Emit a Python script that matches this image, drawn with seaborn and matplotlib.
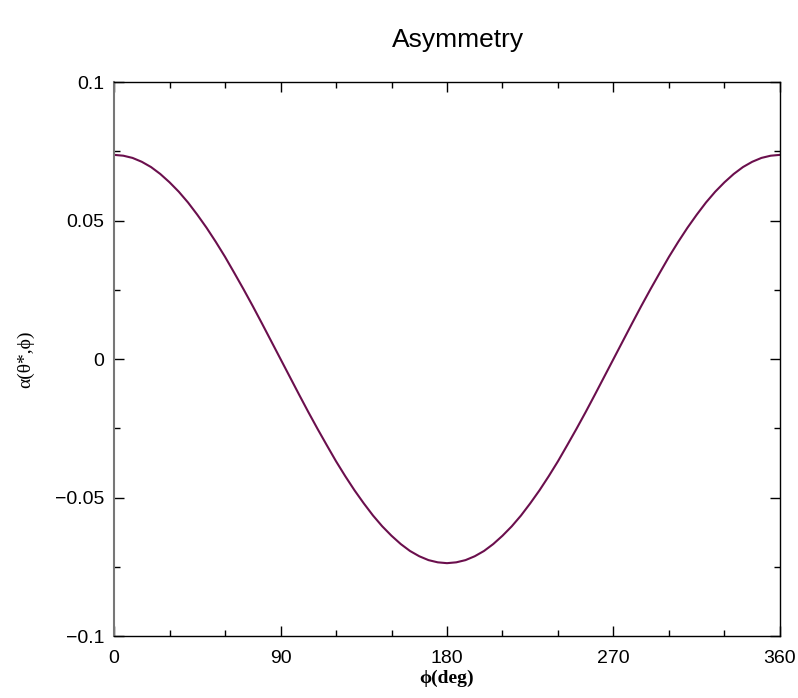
import matplotlib
matplotlib.use("Agg")
import matplotlib.pyplot as plt
import seaborn as sns
import pandas as pd
from matplotlib.ticker import MultipleLocator

phi_deg = [0, 5, 10, 15, 20, 25, 30, 35, 40, 45, 50, 55, 60, 65, 70, 75, 80, 85,
           90, 95, 100, 105, 110, 115, 120, 125, 130, 135, 140, 145, 150, 155,
           160, 165, 170, 175, 180, 185, 190, 195, 200, 205, 210, 215, 220, 225,
           230, 235, 240, 245, 250, 255, 260, 265, 270, 275, 280, 285, 290, 295,
           300, 305, 310, 315, 320, 325, 330, 335, 340, 345, 350, 355, 360]
asym = [0.0737, 0.0734, 0.0726, 0.0712, 0.0693, 0.0668, 0.0638, 0.0604, 0.0565,
        0.0521, 0.0474, 0.0423, 0.0369, 0.0311, 0.0252, 0.0191, 0.0128, 0.0064,
        0.0000, -0.0064, -0.0128, -0.0191, -0.0252, -0.0311, -0.0369, -0.0423,
        -0.0474, -0.0521, -0.0565, -0.0604, -0.0638, -0.0668, -0.0693, -0.0712,
        -0.0726, -0.0734, -0.0737, -0.0734, -0.0726, -0.0712, -0.0693, -0.0668,
        -0.0638, -0.0604, -0.0565, -0.0521, -0.0474, -0.0423, -0.0369, -0.0311,
        -0.0252, -0.0191, -0.0128, -0.0064, 0.0000, 0.0064, 0.0128, 0.0191,
        0.0252, 0.0311, 0.0369, 0.0423, 0.0474, 0.0521, 0.0565, 0.0604, 0.0638,
        0.0668, 0.0693, 0.0712, 0.0726, 0.0734, 0.0737]
x_ticks = [0, 90, 180, 270, 360]
y_ticks = [-0.1, -0.05, 0, 0.05, 0.1]
y_tick_labels = ["\u22120.1", "\u22120.05", "0", "0.05", "0.1"]

sns.set_style("white")
plt.rcParams['font.family'] = ['Liberation Sans', 'DejaVu Sans']
plt.rcParams['text.color'] = 'black'
plt.rcParams['axes.labelcolor'] = 'black'

df = pd.DataFrame({"phi": phi_deg, "alpha": asym})

fig = plt.figure(figsize=(7.98, 6.98), dpi=100)
ax = fig.add_axes([0.1429, 0.0888, 0.8345, 0.7937])
sns.lineplot(data=df, x="phi", y="alpha", ax=ax, color="#6b0f4d", linewidth=1.5)

ax.set_xlim(0, 360)
ax.set_ylim(-0.1, 0.1)
ax.set_xticks(x_ticks)
ax.set_xticklabels([str(t) for t in x_ticks])
ax.set_yticks(y_ticks)
ax.set_yticklabels(y_tick_labels)
ax.xaxis.set_minor_locator(MultipleLocator(30))
ax.yaxis.set_minor_locator(MultipleLocator(0.025))
ax.tick_params(which="major", direction="in", length=7, width=1, top=True, right=True,
               bottom=True, left=True, labelsize=14, colors="black")
ax.tick_params(axis="y", which="major", pad=7)
ax.tick_params(axis="x", which="major", pad=10)
ax.tick_params(which="minor", direction="in", length=4, width=1, top=True, right=True,
               bottom=True, left=True, colors="black")
for s in ax.spines.values():
    s.set_color("black")
    s.set_linewidth(1.0)
ax.spines["left"].set_color("#777777")
ax.spines["left"].set_linewidth(1.5)

ax.set_xlabel("\u03d5(deg)", fontfamily="Liberation Serif", fontweight="bold", fontsize=14,
              labelpad=2, color="black")
ax.set_ylabel("\u03b1(\u03b8*,\u03d5)", fontfamily="Liberation Serif", fontsize=14,
              labelpad=15, color="black")
fig.text(0.574, 0.942, "Asymmetry", ha="center", va="center", fontsize=19, color="black")

fig.savefig("out.png", dpi=100)
